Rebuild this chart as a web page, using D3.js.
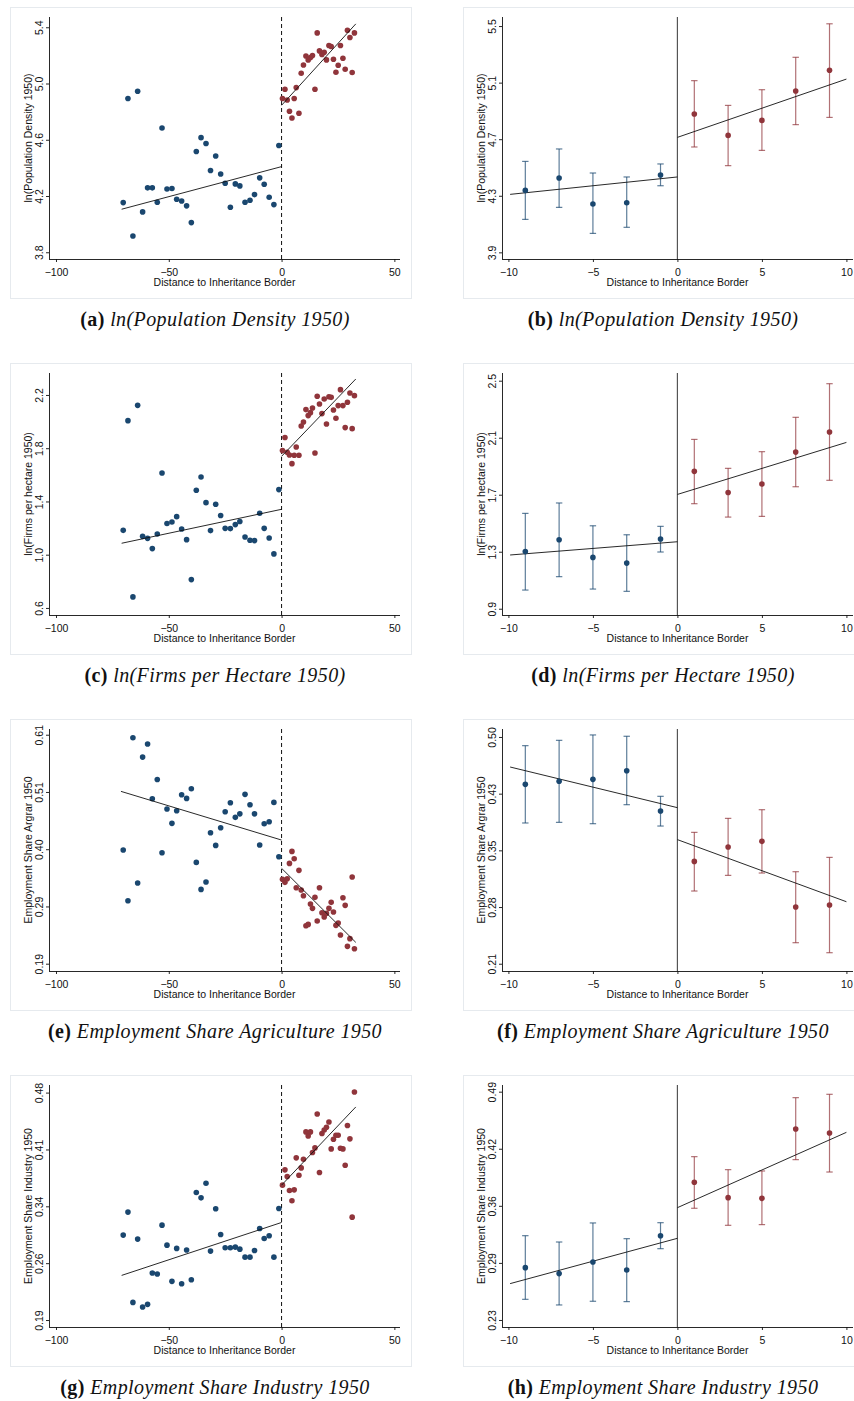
<!DOCTYPE html>
<html>
<head>
<meta charset="utf-8">
<script src="https://cdn.jsdelivr.net/npm/d3@7/dist/d3.min.js"></script>
<style>
body { margin: 0; background: #fff; }
svg text { font-family: "Liberation Sans", Arial, Helvetica, sans-serif; }
svg text.cap { font-family: "Liberation Serif", "Times New Roman", serif; }
</style>
</head>
<body>
<svg id="fig"></svg>
<script>
// ---- data ----
// binned-scatter positions (left column)
const scatBlueX = [-70.2, -68.1, -65.9, -63.8, -61.6, -59.4, -57.3, -55.1, -53.0, -50.8, -48.6, -46.5, -44.3, -42.1, -40.0, -37.8, -35.7, -33.5, -31.5, -29.2, -27.0, -25.0, -22.7, -20.5, -18.5, -16.2, -14.0, -12.0, -9.7, -7.7, -5.5, -3.4, -1.2];
const scatRedX = [0.4, 1.5, 2.5, 3.5, 4.6, 5.6, 6.5, 7.7, 8.7, 9.7, 10.8, 11.8, 12.8, 13.7, 14.8, 15.8, 16.8, 17.9, 18.9, 19.9, 21.0, 22.0, 23.0, 24.1, 25.1, 26.1, 27.2, 28.2, 29.2, 30.3, 31.3, 32.3];

const popBlue = [4.153, 4.893, 3.916, 4.945, 4.087, 4.258, 4.258, 4.156, 4.684, 4.250, 4.253, 4.177, 4.165, 4.130, 4.011, 4.516, 4.615, 4.573, 4.381, 4.485, 4.357, 4.291, 4.120, 4.286, 4.272, 4.156, 4.170, 4.210, 4.329, 4.284, 4.191, 4.139, 4.559];
const popRed = [4.893, 4.959, 4.883, 4.803, 4.755, 4.893, 4.971, 4.788, 5.073, 5.132, 5.196, 5.168, 5.185, 5.199, 4.959, 5.360, 5.232, 5.206, 5.222, 5.168, 5.270, 5.263, 5.173, 5.080, 5.130, 5.270, 5.180, 5.101, 5.379, 5.327, 5.078, 5.360];
const firmBlue = [1.183, 2.007, 0.683, 2.122, 1.138, 1.123, 1.046, 1.156, 1.614, 1.234, 1.246, 1.286, 1.193, 1.113, 0.813, 1.484, 1.584, 1.391, 1.181, 1.379, 1.294, 1.198, 1.196, 1.226, 1.249, 1.133, 1.108, 1.106, 1.311, 1.198, 1.126, 1.006, 1.489];
const firmRed = [1.782, 1.880, 1.769, 1.749, 1.684, 1.747, 1.809, 1.747, 1.967, 1.997, 2.090, 2.045, 2.067, 2.102, 1.764, 2.190, 2.132, 2.060, 2.170, 1.982, 2.187, 2.182, 2.087, 2.025, 2.120, 2.240, 2.120, 1.955, 2.145, 2.215, 1.947, 2.195];
const agrBlue = [0.3985, 0.3055, 0.6045, 0.338, 0.569, 0.593, 0.4926, 0.528, 0.3936, 0.4737, 0.4474, 0.4706, 0.500, 0.4932, 0.511, 0.3758, 0.3263, 0.3398, 0.4303, 0.407, 0.4394, 0.4688, 0.4853, 0.4584, 0.4649, 0.5006, 0.4816, 0.4649, 0.4077, 0.4468, 0.4504, 0.4859, 0.3862];
const agrRed = [0.3447, 0.3392, 0.3459, 0.374, 0.396, 0.3826, 0.3294, 0.3612, 0.3251, 0.3147, 0.2597, 0.2621, 0.2994, 0.2915, 0.3117, 0.2682, 0.3294, 0.2835, 0.2756, 0.2823, 0.2915, 0.3025, 0.2848, 0.2603, 0.2645, 0.2426, 0.311, 0.297, 0.2218, 0.2359, 0.349, 0.2175];
const indBlue = [0.2983, 0.3276, 0.2125, 0.2932, 0.2066, 0.2100, 0.2499, 0.2486, 0.3110, 0.2855, 0.2393, 0.2813, 0.2363, 0.2792, 0.2414, 0.3526, 0.3458, 0.3645, 0.2779, 0.3318, 0.2991, 0.2821, 0.2821, 0.2830, 0.2804, 0.2702, 0.2702, 0.2787, 0.3068, 0.2940, 0.2974, 0.2702, 0.3322];
const indRed = [0.3620, 0.3815, 0.3730, 0.3552, 0.3420, 0.3560, 0.3968, 0.3747, 0.3840, 0.3951, 0.4299, 0.4248, 0.4299, 0.4036, 0.4095, 0.4528, 0.3781, 0.4278, 0.4324, 0.4358, 0.4426, 0.4082, 0.4206, 0.4257, 0.4257, 0.4091, 0.4082, 0.3874, 0.4380, 0.4210, 0.3212, 0.4808];

// fitted lines, [[x0,y0],[x1,y1]]
const popFitBlue = [[-70.9, 4.106], [0, 4.409]], popFitRed = [[0, 4.845], [32.9, 5.424]];
const firmFitBlue = [[-70.9, 1.086], [0, 1.341]], firmFitRed = [[0, 1.739], [32.9, 2.320]];
const agrFitBlue = [[-71.2, 0.5061], [0, 0.4168]], agrFitRed = [[0, 0.365], [32.9, 0.2291]];
const indFitBlue = [[-70.9, 0.2469], [0, 0.3144]], indFitRed = [[0, 0.3620], [32.9, 0.4617]];

// 2 km bins (right column): point, lower CI, upper CI
const binBlueX = [-9, -7, -5, -3, -1];
const binRedX = [1, 3, 5, 7, 9];
const popBinBlue = [4.338, 4.426, 4.242, 4.251, 4.447], popBinBlueLo = [4.133, 4.218, 4.034, 4.077, 4.371], popBinBlueHi = [4.543, 4.631, 4.461, 4.433, 4.525];
const popBinRed = [4.878, 4.727, 4.833, 5.041, 5.187], popBinRedLo = [4.645, 4.513, 4.621, 4.803, 4.854], popBinRedHi = [5.114, 4.939, 5.050, 5.279, 5.516];
const firmBinBlue = [1.302, 1.384, 1.260, 1.220, 1.389], firmBinBlueLo = [1.031, 1.125, 1.038, 1.022, 1.298], firmBinBlueHi = [1.569, 1.642, 1.482, 1.419, 1.478];
const firmBinRed = [1.864, 1.716, 1.775, 1.999, 2.140], firmBinRedLo = [1.637, 1.543, 1.548, 1.756, 1.801], firmBinRedHi = [2.088, 1.885, 2.002, 2.243, 2.479];
const agrBinBlue = [0.4394, 0.4433, 0.4458, 0.4569, 0.4053], agrBinBlueLo = [0.3900, 0.3908, 0.3891, 0.4134, 0.3861], agrBinBlueHi = [0.4889, 0.4957, 0.5026, 0.5009, 0.4241];
const agrBinRed = [0.3409, 0.3593, 0.3665, 0.2825, 0.2851], agrBinRedLo = [0.3030, 0.3230, 0.3260, 0.2369, 0.2241], agrBinRedHi = [0.3780, 0.3959, 0.4070, 0.3277, 0.3460];
const indBinBlue = [0.2896, 0.2828, 0.2960, 0.2869, 0.3260], indBinBlueLo = [0.2535, 0.2471, 0.2513, 0.2509, 0.3112], indBinBlueHi = [0.3260, 0.3188, 0.3405, 0.3226, 0.3408];
const indBinRed = [0.3868, 0.3693, 0.3685, 0.4475, 0.4429], indBinRedLo = [0.3572, 0.3378, 0.3386, 0.4126, 0.3985], indBinRedHi = [0.4160, 0.4012, 0.3997, 0.4832, 0.4870];

const popBinFitBlue = [[-9.9, 4.310], [0, 4.433]], popBinFitRed = [[0, 4.713], [10, 5.125]];
const firmBinFitBlue = [[-9.9, 1.277], [0, 1.370]], firmBinFitRed = [[0, 1.702], [10, 2.067]];
const agrBinFitBlue = [[-9.9, 0.4616], [0, 0.4096]], agrBinFitRed = [[0, 0.3687], [10, 0.2893]];
const indBinFitBlue = [[-9.9, 0.2714], [0, 0.3230]], indBinFitRed = [[0, 0.3579], [10, 0.4437]];

// axes
const scatXDomain = [-103.1, 52.5], scatXTicks = [-100, -50, 0, 50];
const binXDomain = [-10.38, 10.39], binXTicks = [-10, -5, 0, 5, 10];
const xTitle = 'Distance to Inheritance Border';

const popYDomain = [3.752, 5.473], popYTicks = [3.8, 4.2, 4.6, 5.0, 5.4], popYLabels = ['3.8', '4.2', '4.6', '5.0', '5.4'];
const popBinYDomain = [3.853, 5.564], popBinYTicks = [3.9, 4.3, 4.7, 5.1, 5.5], popBinYLabels = ['3.9', '4.3', '4.7', '5.1', '5.5'];
const firmYDomain = [0.547, 2.365], firmYTicks = [0.6, 1.0, 1.4, 1.8, 2.2], firmYLabels = ['0.6', '1.0', '1.4', '1.8', '2.2'];
const firmBinYDomain = [0.856, 2.554], firmBinYTicks = [0.9, 1.3, 1.7, 2.1, 2.5], firmBinYLabels = ['0.9', '1.3', '1.7', '2.1', '2.5'];
const agrYDomain = [0.1766, 0.6205], agrYTicks = [0.19, 0.295, 0.40, 0.505, 0.61], agrYLabels = ['0.19', '0.29', '0.40', '0.51', '0.61'];
const agrBinYDomain = [0.2007, 0.5102], agrBinYTicks = [0.21, 0.2825, 0.355, 0.4275, 0.50], agrBinYLabels = ['0.21', '0.28', '0.35', '0.43', '0.50'];
const indYDomain = [0.1811, 0.4897], indYTicks = [0.19, 0.2625, 0.335, 0.4075, 0.48], indYLabels = ['0.19', '0.26', '0.34', '0.41', '0.48'];
const indBinYDomain = [0.2220, 0.4976], indBinYTicks = [0.23, 0.295, 0.36, 0.425, 0.49], indBinYLabels = ['0.23', '0.29', '0.36', '0.42', '0.49'];

const yTitles = ['ln(Population Density 1950)', 'ln(Firms per hectare 1950)', 'Employment Share Argrar 1950', 'Employment Share Industry 1950'];
const captionLetters = ['a', 'b', 'c', 'd', 'e', 'f', 'g', 'h'];
const captionTexts = ['ln(Population Density 1950)', 'ln(Firms per Hectare 1950)', 'Employment Share Agriculture 1950', 'Employment Share Industry 1950'];

// ---- layout ----
const W = 854, H = 1401;
const colLeft = [10, 463];
const rowTop = [7, 363, 719, 1075];
const boxW = 401, boxH = 291;
const plot = { left: 39, right: 390, top: 10, bottom: 252 };
const capCenter = [215, 663];
const navy = '#1a476f', maroon = '#90353b';

const svg = d3.select('#fig').attr('width', W).attr('height', H);

const scatter = [
	{ blue: popBlue, red: popRed, fb: popFitBlue, fr: popFitRed, yd: popYDomain, yt: popYTicks, yl: popYLabels },
	{ blue: firmBlue, red: firmRed, fb: firmFitBlue, fr: firmFitRed, yd: firmYDomain, yt: firmYTicks, yl: firmYLabels },
	{ blue: agrBlue, red: agrRed, fb: agrFitBlue, fr: agrFitRed, yd: agrYDomain, yt: agrYTicks, yl: agrYLabels },
	{ blue: indBlue, red: indRed, fb: indFitBlue, fr: indFitRed, yd: indYDomain, yt: indYTicks, yl: indYLabels }
];
const binned = [
	{ blue: popBinBlue, bLo: popBinBlueLo, bHi: popBinBlueHi, red: popBinRed, rLo: popBinRedLo, rHi: popBinRedHi, fb: popBinFitBlue, fr: popBinFitRed, yd: popBinYDomain, yt: popBinYTicks, yl: popBinYLabels },
	{ blue: firmBinBlue, bLo: firmBinBlueLo, bHi: firmBinBlueHi, red: firmBinRed, rLo: firmBinRedLo, rHi: firmBinRedHi, fb: firmBinFitBlue, fr: firmBinFitRed, yd: firmBinYDomain, yt: firmBinYTicks, yl: firmBinYLabels },
	{ blue: agrBinBlue, bLo: agrBinBlueLo, bHi: agrBinBlueHi, red: agrBinRed, rLo: agrBinRedLo, rHi: agrBinRedHi, fb: agrBinFitBlue, fr: agrBinFitRed, yd: agrBinYDomain, yt: agrBinYTicks, yl: agrBinYLabels },
	{ blue: indBinBlue, bLo: indBinBlueLo, bHi: indBinBlueHi, red: indBinRed, rLo: indBinRedLo, rHi: indBinRedHi, fb: indBinFitBlue, fr: indBinFitRed, yd: indBinYDomain, yt: indBinYTicks, yl: indBinYLabels }
];

const line = d3.line().x(d => d[0]).y(d => d[1]);

function frame(g, x, y, p, xTicks, yTitle) {
	g.append('rect').attr('x', 0.5).attr('y', 0.5).attr('width', boxW).attr('height', boxH)
		.attr('fill', '#fff').attr('stroke', '#e6eaee');

	const xa = g.append('g').attr('transform', `translate(0,${plot.bottom})`)
		.call(d3.axisBottom(x).tickValues(xTicks).tickSize(3).tickSizeOuter(0).tickFormat(d3.format('d')));
	xa.select('.domain').attr('d', `M${plot.left},0.5H${plot.right}`);
	const ya = g.append('g').attr('transform', `translate(${plot.left},0)`)
		.call(d3.axisLeft(y).tickValues(p.yt).tickSize(3).tickSizeOuter(0).tickFormat((d, i) => p.yl[i]));
	ya.select('.domain').attr('d', `M0.5,${plot.top}V${plot.bottom}`);

	[xa, ya].forEach(a => {
		a.selectAll('path, line').attr('stroke', '#111').attr('stroke-width', 0.9);
		a.selectAll('text').attr('fill', '#111').style('font-size', '10.5px');
	});
	xa.selectAll('text').attr('dy', null).attr('y', 16.5);
	ya.selectAll('text').attr('x', null).attr('dy', null)
		.attr('text-anchor', 'middle')
		.attr('transform', 'translate(-6.5,0) rotate(-90)');

	g.append('text').attr('x', (plot.left + plot.right) / 2).attr('y', plot.bottom + 26.5)
		.attr('text-anchor', 'middle').style('font-size', '10.5px').attr('fill', '#111').text(xTitle);
	g.append('text').attr('transform', `translate(21.5,${(plot.top + plot.bottom) / 2}) rotate(-90)`)
		.attr('text-anchor', 'middle').style('font-size', '10.5px').attr('fill', '#111').text(yTitle);
}

function caption(cx, cy, letter, text) {
	const t = svg.append('text').attr('class', 'cap').attr('x', cx).attr('y', cy)
		.attr('text-anchor', 'middle').style('font-size', '20px').style('letter-spacing', '0.4px').attr('fill', '#111');
	t.append('tspan').attr('font-weight', 'bold').text(`(${letter})`);
	t.append('tspan').attr('font-style', 'italic').text(' ' + text);
}

for (let r = 0; r < 4; r++) {
	// left: scatter
	{
		const p = scatter[r];
		const g = svg.append('g').attr('transform', `translate(${colLeft[0]},${rowTop[r]})`);
		const x = d3.scaleLinear().domain(scatXDomain).range([plot.left, plot.right]);
		const y = d3.scaleLinear().domain(p.yd).range([plot.bottom, plot.top]);
		frame(g, x, y, p, scatXTicks, yTitles[r]);

		g.append('line').attr('x1', x(0)).attr('x2', x(0)).attr('y1', plot.top).attr('y2', plot.bottom)
			.attr('stroke', '#111').attr('stroke-width', 1).attr('stroke-dasharray', '4,3');

		g.append('g').selectAll('circle').data(p.blue).join('circle')
			.attr('cx', (d, i) => x(scatBlueX[i])).attr('cy', d => y(d)).attr('r', 2.8).attr('fill', navy);
		g.append('g').selectAll('circle').data(p.red).join('circle')
			.attr('cx', (d, i) => x(scatRedX[i])).attr('cy', d => y(d)).attr('r', 2.8).attr('fill', maroon);

		[p.fb, p.fr].forEach(f => {
			g.append('path').attr('d', line(f.map(d => [x(d[0]), y(d[1])])))
				.attr('fill', 'none').attr('stroke', '#111').attr('stroke-width', 0.9);
		});
		caption(capCenter[0], rowTop[r] + 319, captionLetters[r * 2], captionTexts[r]);
	}
	// right: 2km bins with CIs
	{
		const p = binned[r];
		const g = svg.append('g').attr('transform', `translate(${colLeft[1]},${rowTop[r]})`);
		const x = d3.scaleLinear().domain(binXDomain).range([plot.left, plot.right]);
		const y = d3.scaleLinear().domain(p.yd).range([plot.bottom, plot.top]);
		frame(g, x, y, p, binXTicks, yTitles[r]);

		g.append('line').attr('x1', x(0)).attr('x2', x(0)).attr('y1', plot.top).attr('y2', plot.bottom)
			.attr('stroke', '#555').attr('stroke-width', 1.2);

		const sides = [
			{ xs: binBlueX, v: p.blue, lo: p.bLo, hi: p.bHi, c: navy },
			{ xs: binRedX, v: p.red, lo: p.rLo, hi: p.rHi, c: maroon }
		];
		sides.forEach(s => {
			const eb = g.append('g').attr('stroke', s.c).attr('stroke-opacity', 0.7).attr('stroke-width', 1.2);
			s.v.forEach((v, i) => {
				const cx = x(s.xs[i]);
				eb.append('line').attr('x1', cx).attr('x2', cx).attr('y1', y(s.lo[i])).attr('y2', y(s.hi[i]));
				eb.append('line').attr('x1', cx - 3.2).attr('x2', cx + 3.2).attr('y1', y(s.lo[i])).attr('y2', y(s.lo[i]));
				eb.append('line').attr('x1', cx - 3.2).attr('x2', cx + 3.2).attr('y1', y(s.hi[i])).attr('y2', y(s.hi[i]));
			});
		});
		[p.fb, p.fr].forEach(f => {
			g.append('path').attr('d', line(f.map(d => [x(d[0]), y(d[1])])))
				.attr('fill', 'none').attr('stroke', '#111').attr('stroke-width', 0.9);
		});
		sides.forEach(s => {
			g.append('g').selectAll('circle').data(s.v).join('circle')
				.attr('cx', (d, i) => x(s.xs[i])).attr('cy', d => y(d)).attr('r', 2.8).attr('fill', s.c);
		});
		caption(capCenter[1], rowTop[r] + 319, captionLetters[r * 2 + 1], captionTexts[r]);
	}
}
</script>
</body>
</html>
